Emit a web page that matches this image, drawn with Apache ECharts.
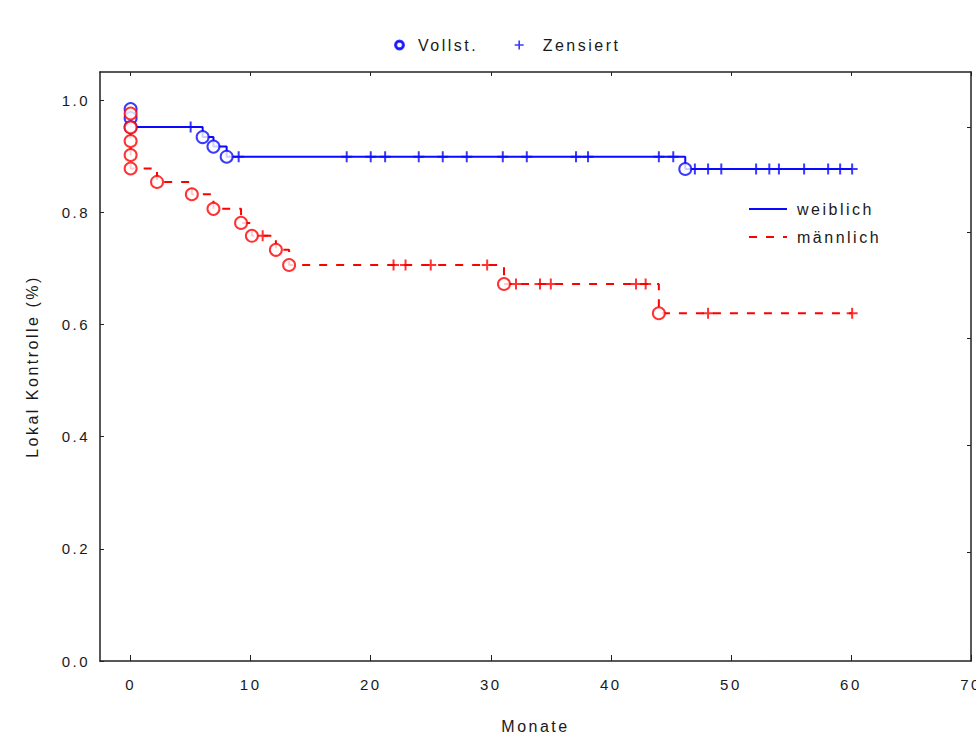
<!DOCTYPE html>
<html>
<head>
<meta charset="utf-8">
<title>Lokal Kontrolle</title>
<script src="https://cdn.jsdelivr.net/npm/echarts@6/dist/echarts.min.js"></script>
<style>
  html, body { margin: 0; padding: 0; background: #fff; overflow: hidden; }
  #kmChart { display: block; width: 976px; height: 740px; }
  /* the original type is set quite loose */
  #kmChart text { letter-spacing: 2.5px; }
</style>
</head>
<body>
<div id="kmChart"></div>
<script>
// weiblich: complete events (month, rate) and censored months
var femaleEventMonths = [0, 0, 0, 6.0, 6.9, 8.0, 46.2];
var femaleEventRates = [0.984, 0.968, 0.952, 0.934, 0.917, 0.899, 0.877];
var femaleCensoredMonths = [5.0, 9.0, 18.0, 20.0, 21.2, 24.0, 26.0, 28.0, 31.0, 33.0, 37.1, 38.1,
  44.0, 45.2, 47.0, 48.1, 49.2, 52.1, 53.2, 54.0, 56.1, 58.1, 59.1, 60.1];

// männlich
var maleEventMonths = [0, 0, 0, 0, 0, 2.2, 5.1, 6.9, 9.2, 10.1, 12.1, 13.2, 31.1, 44.0];
var maleEventRates = [0.976, 0.951, 0.927, 0.902, 0.878, 0.854, 0.832, 0.806, 0.781, 0.758, 0.733, 0.706, 0.672, 0.620];
var maleCensoredMonths = [11.0, 21.9, 22.9, 25.0, 29.7, 32.1, 34.1, 35.0, 42.1, 42.9, 48.1, 60.1];

var xTicks = [0, 10, 20, 30, 40, 50, 60, 70];
var yTicks = [0, 0.2, 0.4, 0.6, 0.8, 1.0];
var rightTicks = [0.193, 0.385, 0.575, 0.764, 0.952];

var BLUE = '#0a0aff';
var RED = '#ff0000';
var INK = '#1a1a1a';
var FONT = 'Liberation Sans';
var PLUS = 'path://M4.5,0H6.5V4.5H11V6.5H6.5V11H4.5V6.5H0V4.5H4.5Z';
// small ring for the legend (outer cw, inner ccw -> hole)
var RING = 'path://M5,0A5,5 0 1 1 4.99,0ZM5,1.3A3.7,3.7 0 1 0 5.01,1.3Z';

// rate of the step curve at a given month
function rateAt(months, rates, t) {
  var r = rates[0];
  for (var i = 0; i < months.length; i++) {
    if (months[i] <= t) r = rates[i];
  }
  return r;
}

function eventPoints(months, rates) {
  return months.map(function (m, i) { return [m, rates[i]]; });
}

function censorPoints(censored, months, rates) {
  return censored.map(function (m) { return [m, rateAt(months, rates, m)]; });
}

function stepLine(months, rates, censored) {
  var pts = eventPoints(months, rates);
  var last = censored[censored.length - 1];
  pts.push([last, rateAt(months, rates, last)]);
  return pts;
}

var myChart = echarts.init(document.getElementById('kmChart'), null, { renderer: 'svg', width: 976, height: 740 });

var option = {
  animation: false,
  backgroundColor: '#fff',
  textStyle: { fontFamily: FONT, color: INK },
  grid: { left: 100, right: 5, top: 72, bottom: 79, outerBoundsMode: 'none' },
  legend: [
    {
      left: 394,
      top: 37,
      padding: 0,
      orient: 'horizontal',
      itemWidth: 9,
      itemHeight: 9,
      itemGap: 54,
      selectedMode: false,
      textStyle: { fontSize: 16, color: INK, padding: [0, 0, 0, 9] },
      data: [
        { name: 'Vollst.', icon: RING, itemStyle: { color: BLUE } },
        { name: 'Zensiert', icon: PLUS, itemStyle: { color: BLUE }, textStyle: { padding: [0, 0, 0, 14] } }
      ]
    },
    {
      left: 748,
      top: 201,
      padding: 0,
      orient: 'vertical',
      itemWidth: 38,
      itemHeight: 14,
      itemGap: 12,
      selectedMode: false,
      itemStyle: { color: 'rgba(0,0,0,0)', borderWidth: 0, opacity: 0 },
      textStyle: { fontSize: 16, color: INK, padding: [0, 0, 0, 5] },
      data: ['weiblich', 'männlich']
    }
  ],
  xAxis: [
    {
      type: 'value',
      position: 'bottom',
      min: -2.55,
      max: 70,
      name: 'Monate',
      nameLocation: 'middle',
      nameGap: 57,
      nameTextStyle: { fontSize: 16, color: INK },
      splitLine: { show: false },
      axisLine: { onZero: false, lineStyle: { color: '#222', width: 1.5 } },
      axisTick: { inside: true, length: 6, customValues: xTicks, lineStyle: { color: '#222' } },
      axisLabel: { customValues: xTicks, margin: 16, fontSize: 15, color: INK }
    },
    {
      type: 'value',
      position: 'top',
      min: -2.55,
      max: 70,
      splitLine: { show: false },
      axisLine: { onZero: false, lineStyle: { color: '#222', width: 1.5 } },
      axisTick: { inside: true, length: 4, customValues: xTicks, lineStyle: { color: '#222' } },
      axisLabel: { show: false }
    }
  ],
  yAxis: [
    {
      type: 'value',
      position: 'left',
      min: 0,
      max: 1.05,
      name: 'Lokal Kontrolle (%)',
      nameLocation: 'middle',
      nameGap: 60,
      nameTextStyle: { fontSize: 16, color: INK },
      splitLine: { show: false },
      axisLine: { show: true, onZero: false, lineStyle: { color: '#222', width: 1.5 } },
      axisTick: { show: true, inside: true, length: 4, customValues: yTicks, lineStyle: { color: '#222' } },
      axisLabel: {
        customValues: yTicks,
        margin: 10,
        fontSize: 15,
        color: INK,
        formatter: function (v) { return v.toFixed(1); }
      }
    },
    {
      type: 'value',
      position: 'right',
      min: 0,
      max: 1.05,
      splitLine: { show: false },
      axisLine: { show: true, onZero: false, lineStyle: { color: '#222', width: 1.5 } },
      axisTick: { show: true, inside: true, length: 4, customValues: rightTicks, lineStyle: { color: '#222' } },
      axisLabel: { show: false }
    }
  ],
  series: [
    {
      name: 'weiblich',
      type: 'line',
      step: 'end',
      symbol: 'none',
      color: BLUE,
      lineStyle: { color: BLUE, width: 2, type: 'solid' },
      data: stepLine(femaleEventMonths, femaleEventRates, femaleCensoredMonths),
      z: 2
    },
    {
      name: 'männlich',
      type: 'line',
      step: 'end',
      symbol: 'none',
      color: RED,
      lineStyle: { color: RED, width: 2, type: [8, 9] },
      data: stepLine(maleEventMonths, maleEventRates, maleCensoredMonths),
      z: 2
    },
    {
      name: 'Zensiert',
      type: 'scatter',
      symbol: PLUS,
      symbolSize: 11,
      itemStyle: { color: BLUE },
      data: censorPoints(femaleCensoredMonths, femaleEventMonths, femaleEventRates),
      z: 3
    },
    {
      name: 'Zensiert',
      type: 'scatter',
      symbol: PLUS,
      symbolSize: 11,
      itemStyle: { color: RED },
      data: censorPoints(maleCensoredMonths, maleEventMonths, maleEventRates),
      z: 3
    },
    {
      name: 'Vollst.',
      type: 'scatter',
      symbol: 'emptyCircle',
      symbolSize: 12,
      itemStyle: { color: BLUE, borderColor: BLUE, borderWidth: 1.5 },
      data: eventPoints(femaleEventMonths, femaleEventRates),
      z: 4
    },
    {
      name: 'Vollst.',
      type: 'scatter',
      symbol: 'emptyCircle',
      symbolSize: 12,
      itemStyle: { color: RED, borderColor: RED, borderWidth: 1.5 },
      data: eventPoints(maleEventMonths, maleEventRates),
      z: 4
    }
  ]
};

myChart.setOption(option);
</script>
</body>
</html>
